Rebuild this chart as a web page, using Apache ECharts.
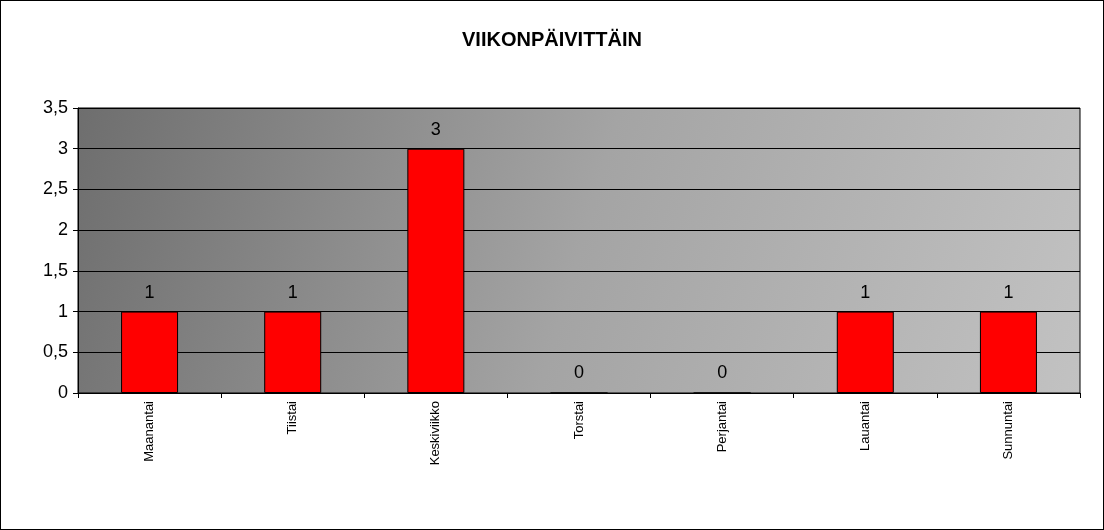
<!DOCTYPE html>
<html>
<head>
    <meta charset="UTF-8">
    <title>index.html</title>
    <script src="https://cdn.jsdelivr.net/npm/echarts@6/dist/echarts.min.js"></script>
    <style>
        body { margin: 0; background: #fff; }
        #chart { width: 1102px; height: 528px; border: 1px solid #000; }
    </style>
</head>
<body>
<div id="chart"></div>
<script>
    var days = ['Maanantai', 'Tiistai', 'Keskiviikko', 'Torstai', 'Perjantai', 'Lauantai', 'Sunnuntai'];
    var counts = [1, 1, 3, 0, 0, 1, 1];
    var yTicks = [0, 0.5, 1, 1.5, 2, 2.5, 3, 3.5];

    var chart = echarts.init(document.getElementById('chart'));
    chart.setOption({
        animation: false,
        title: {
            text: 'VIIKONPÄIVITTÄIN',
            left: 'center',
            top: 24,
            textStyle: { fontFamily: 'Liberation Sans', fontSize: 20, fontWeight: 'bold', color: '#000' }
        },
        grid: {
            left: 77, right: 23, top: 107, bottom: 136,
            show: true,
            borderColor: '#000',
            borderWidth: 1,
            backgroundColor: new echarts.graphic.LinearGradient(0, 0, 1, 1, [
                { offset: 0, color: '#6e6e6e' },
                { offset: 0.5, color: '#a4a4a4' },
                { offset: 1, color: '#c2c2c2' }
            ])
        },
        xAxis: {
            type: 'category',
            data: days,
            axisLine: { lineStyle: { color: '#000' } },
            axisTick: { show: true, length: 5, lineStyle: { color: '#000' } },
            axisLabel: {
                rotate: 90, margin: 8, color: '#000',
                fontFamily: 'Liberation Sans', fontSize: 13
            }
        },
        yAxis: {
            type: 'value',
            min: yTicks[0],
            max: yTicks[yTicks.length - 1],
            interval: 0.5,
            axisLine: { show: true, lineStyle: { color: '#000' } },
            axisTick: { show: true, length: 5, lineStyle: { color: '#000' } },
            splitLine: { lineStyle: { color: '#000', width: 1 } },
            axisLabel: {
                color: '#000', fontFamily: 'Liberation Sans', fontSize: 18, margin: 10,
                formatter: function (v) { return String(v).replace('.', ','); }
            }
        },
        series: [{
            type: 'bar',
            data: counts,
            barWidth: 57,
            itemStyle: { color: '#ff0000', borderColor: '#000', borderWidth: 1 },
            label: {
                show: true, position: 'top', distance: 10, color: '#000',
                fontFamily: 'Liberation Sans', fontSize: 18
            }
        }]
    });
</script>
</body>
</html>
